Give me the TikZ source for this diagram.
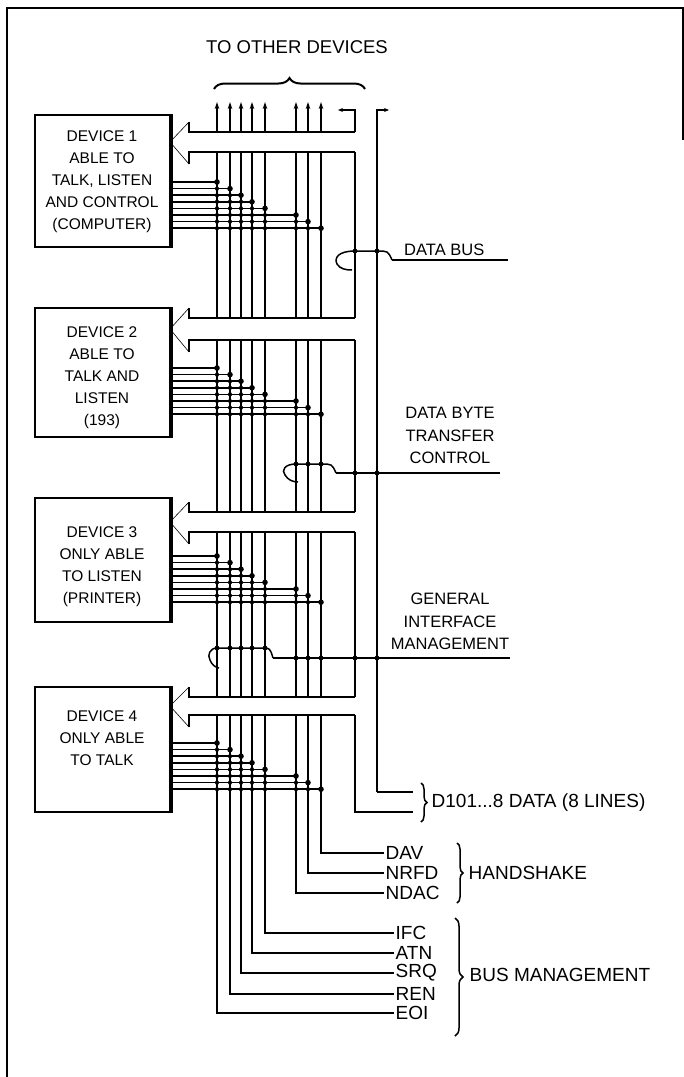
\documentclass[tikz,border=0pt]{standalone}
\usepackage{fontspec}
\setmainfont{Liberation Sans}
\usetikzlibrary{arrows.meta,decorations.pathreplacing}
\tikzset{%
  tipA/.tip={Stealth[length=7pt,width=4.5pt]},
  tipB/.tip={Stealth[length=5pt,width=4pt]},
  devbox/.style={draw,line width=1.8pt,minimum width=135pt,inner sep=0pt},
  devtext/.style={align=center,font=\fontsize{15.5}{22}\selectfont,inner sep=0pt},
  grptext/.style={align=center,font=\fontsize{16.5}{22.5}\selectfont,inner sep=0pt},
  lbl/.style={font=\fontsize{19}{22}\selectfont,inner sep=1.5pt},
  wire/.style={line width=1.5pt},
  brc/.style={decorate,decoration={brace,amplitude=#1},line width=1.5pt},
}
% one device branch of the data bus: top edge, bottom edge
\newcommand\busbranch[2]{%
  \draw[wire,line width=1.6pt] (355,#1) -- (189,#1) -- (189,#1-10);
  \draw[wire,line width=1.6pt] (355,#2) -- (189,#2) -- (189,#2+12);
  \draw[line width=0.6pt] (189,#1-10) -- (170,{(#1+#2)/2}) -- (189,#2+12);
}
\begin{document}
\begin{tikzpicture}[x=1pt,y=-1pt]
\useasboundingbox (0,0) rectangle (684,1077);
\draw[line width=1.2pt] (7,1077) -- (7,8) -- (683,8) -- (683,140);

\node[lbl,font=\fontsize{18.5}{22}\selectfont] (others) at (297,47) {TO OTHER DEVICES};
\draw[brc=11pt,line width=2pt] (214,89) -- (365,89);

% devices
\node[devbox,minimum height=132pt] (dev1) at (102.5,181) {};
\node[devbox,minimum height=129pt] (dev2) at (102.5,372.5) {};
\node[devbox,minimum height=124pt] (dev3) at (102.5,560) {};
\node[devbox,minimum height=125pt] (dev4) at (102.5,749.5) {};
\foreach \n in {1,...,4}
  \draw[line width=3.4pt] (dev\n.north east) -- (dev\n.south east);
\node[devtext] (txt1) at (102,182) {DEVICE 1\\ABLE TO\\TALK, LISTEN\\AND CONTROL\\(COMPUTER)};
\node[devtext] (txt2) at (102,378) {DEVICE 2\\ABLE TO\\TALK AND\\LISTEN\\(193)};
\node[devtext] (txt3) at (102,567) {DEVICE 3\\ONLY ABLE\\TO LISTEN\\(PRINTER)};
\node[devtext] (txt4) at (102,738) {DEVICE 4\\ONLY ABLE\\TO TALK};

% data bus branches
\busbranch{132}{152}
\busbranch{318}{340}
\busbranch{512}{532}
\busbranch{697}{715}

% data bus, both edges
\draw[wire,-tipB] (355,132) -- (355,110) -- (338,110);
\draw[wire,-tipB] (377,792) -- (377,110) -- (389,110);
\draw[wire] (355,152) -- (355,318);
\draw[wire] (355,340) -- (355,512);
\draw[wire] (355,532) -- (355,697);
\draw[wire] (355,715) -- (355,812) -- (413,812);
\draw[wire] (377,792) -- (413,792);

% control lines
\foreach \x in {217,230,241,252,265,296,308,321} {
  \draw[wire,-tipA] (\x,132) -- (\x,102);
  \draw[wire] (\x,152) -- (\x,318);
  \draw[wire] (\x,340) -- (\x,512);
  \draw[wire] (\x,532) -- (\x,697);
}

% device connections
\foreach \n/\y in {1/182,2/368,3/556,4/743}
  \foreach \x [count=\i from 0] in {217,230,241,252,265,296,308,321} {
    \draw[wire] (170,\y+6.6*\i) -- (\x,\y+6.6*\i);
    \fill (\x,\y+6.6*\i) circle (2.8);
    \foreach \xx [count=\j from 0] in {217,230,241,252,265,296,308,321} {
      \ifnum\j<\i \fill (\xx,\y+6.6*\i) circle (2.1); \fi
    }
  }

% line names
\node[lbl,anchor=west] (dav) at (384,853) {DAV};
\node[lbl,anchor=west] (nrfd) at (384,873) {NRFD};
\node[lbl,anchor=west] (ndac) at (384,893) {NDAC};
\node[lbl,anchor=west] (ifc) at (394,933) {IFC};
\node[lbl,anchor=west] (atn) at (394,953) {ATN};
\node[lbl,anchor=west] (srq) at (394,973) {SRQ};
\node[lbl,anchor=west] (ren) at (394,994) {REN};
\node[lbl,anchor=west] (eoi) at (394,1013) {EOI};
\foreach \x/\t in {321/dav,308/nrfd,296/ndac,265/ifc,252/atn,241/srq,230/ren,217/eoi}
  \draw[wire] (\x,715) |- (\t.west);

\draw[brc=6pt] (421,783) -- (421,822);
\node[lbl,anchor=west] (dio) at (430,803) {D101...8 DATA (8 LINES)};
\draw[brc=6pt] (457,843) -- (457,903);
\node[lbl,anchor=west] (hs) at (467,873) {HANDSHAKE};
\draw[brc=8pt] (455,918) -- (455,1036);
\node[lbl,anchor=west] (bm) at (468,975) {BUS MANAGEMENT};

% group labels
\node[grptext,anchor=south west] (dbus) at (404,256) {DATA BUS};
\draw[wire] (392,260) -- (508,260);
\draw[wire] (392,260) .. controls (388,251) .. (377,251) -- (355,251)
  .. controls (338,251) and (334,258) .. (337,264) .. controls (340,269) and (346,270) .. (352,270);
\foreach \x in {355,377} \fill (\x,251) circle (2.4);

\node[grptext,anchor=south] (dbtc) at (450,464) {DATA BYTE\\TRANSFER\\CONTROL};
\draw[wire] (336,473) -- (500,473);
\draw[wire] (336,473) .. controls (332,464) .. (321,464) -- (296,464)
  .. controls (285,464) and (281,470) .. (285,475) .. controls (288,480) and (293,482) .. (298,482);
\foreach \x in {296,308,321} \fill (\x,464) circle (2.4);
\foreach \x in {355,377} \fill (\x,473) circle (2.4);

\node[grptext,anchor=south] (gim) at (450,650) {GENERAL\\INTERFACE\\MANAGEMENT};
\draw[wire] (273,658) -- (510,658);
\draw[wire] (273,658) .. controls (270,648) .. (262,648) -- (217,648)
  .. controls (210,648) and (207,655) .. (210,660) .. controls (212,665) and (215,667) .. (219,668);
\foreach \x in {217,230,241,252,265} \fill (\x,648) circle (2.4);
\foreach \x in {296,308,321,355,377} \fill (\x,658) circle (2.4);
\end{tikzpicture}
\end{document}
